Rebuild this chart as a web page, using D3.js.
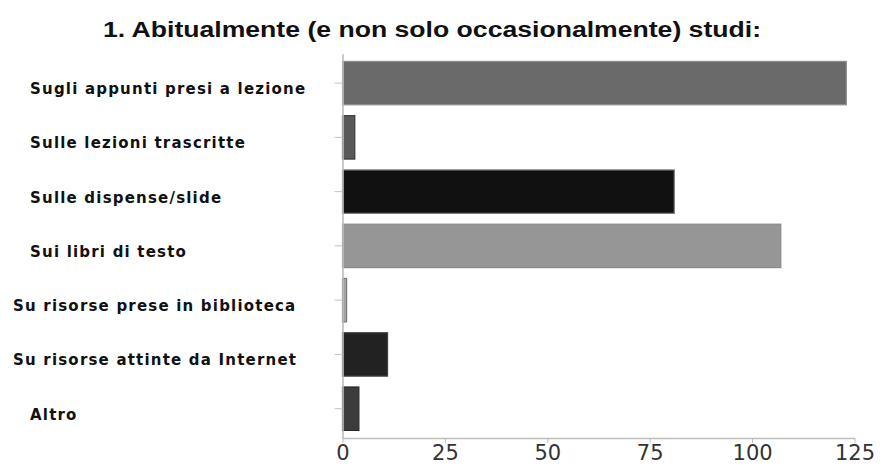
<!DOCTYPE html>
<html>
<head>
<meta charset="utf-8">
<script src="https://cdn.jsdelivr.net/npm/d3@7"></script>
<style>
  html, body { margin: 0; padding: 0; background: #fff; }
  svg { display: block; }
</style>
</head>
<body>
<svg id="chart" width="881" height="466"></svg>
<script>
// Survey question: where students usually study from
const categories = [
  "Sugli appunti presi a lezione",
  "Sulle lezioni trascritte",
  "Sulle dispense/slide",
  "Sui libri di testo",
  "Su risorse prese in biblioteca",
  "Su risorse attinte da Internet",
  "Altro"
];
const counts = [123, 3, 81, 107, 1, 11, 4];
const xTickValues = [0, 25, 50, 75, 100, 125];
const titleText = "1. Abitualmente (e non solo occasionalmente) studi:";

// Grey shade of each bar and its outline
const barFills   = ["#6a6a6a", "#585858", "#111111", "#969696", "#a3a3a3", "#222222", "#3c3c3c"];
const barStrokes = ["#8f8f8f", "#3a3a3a", "#7a7a7a", "#8a8a8a", "#7a7a7a", "#444444", "#2a2a2a"];

const svg = d3.select("#chart");

const x = d3.scaleLinear().domain([0, 125]).range([342.5, 854.5]);
const y = d3.scaleBand()
  .domain(categories)
  .range([53.8, 438])
  .paddingInner(0.2)
  .paddingOuter(0.14);

// Title
svg.append("text")
  .attr("x", 432)
  .attr("y", 37)
  .attr("text-anchor", "middle")
  .attr("font-family", "'Liberation Sans', Arial, sans-serif")
  .attr("font-weight", "bold")
  .attr("font-size", 22)
  .attr("fill", "#111")
  .attr("textLength", 658)
  .attr("lengthAdjust", "spacingAndGlyphs")
  .text(titleText);

// Bars
svg.append("g")
  .selectAll("rect")
  .data(categories)
  .join("rect")
  .attr("x", x(0))
  .attr("y", d => y(d))
  .attr("width", (d, i) => x(counts[i]) - x(0))
  .attr("height", y.bandwidth())
  .attr("fill", (d, i) => barFills[i])
  .attr("stroke", (d, i) => barStrokes[i])
  .attr("stroke-width", 1.2);

// Vertical category axis
const yAxis = svg.append("g")
  .attr("transform", `translate(${x(0)},0)`)
  .call(d3.axisLeft(y).tickSize(8).tickSizeOuter(0).tickFormat(""));
yAxis.select(".domain").attr("stroke", "#bdbdbd").attr("stroke-width", 1.6);
yAxis.selectAll(".tick line").attr("stroke", "#c4c4c4").attr("stroke-width", 1);

// Category labels: left aligned, the longest ones start further left
svg.append("g")
  .selectAll("text")
  .data(categories)
  .join("text")
  .attr("y", d => y(d) + y.bandwidth() / 2 + 11)
  .attr("font-family", "'DejaVu Sans', sans-serif")
  .attr("font-weight", "bold")
  .attr("font-size", 15)
  .attr("letter-spacing", "1.2px")
  .attr("fill", "#111")
  .text(d => d)
  .attr("x", function () { return 30 + this.getComputedTextLength() > 309 ? 13 : 30; });

// Horizontal value axis
const xAxis = svg.append("g")
  .attr("transform", `translate(0,${y.range()[1]})`)
  .call(d3.axisBottom(x).tickValues(xTickValues).tickSize(5).tickSizeOuter(0).tickPadding(2));
xAxis.select(".domain").attr("stroke", "#bdbdbd").attr("stroke-width", 1.6);
xAxis.selectAll(".tick line").attr("stroke", "#bdbdbd").attr("stroke-width", 1);
xAxis.selectAll(".tick text")
  .attr("font-family", "'DejaVu Sans', sans-serif")
  .attr("font-size", 21)
  .attr("fill", "#333");
</script>
</body>
</html>
